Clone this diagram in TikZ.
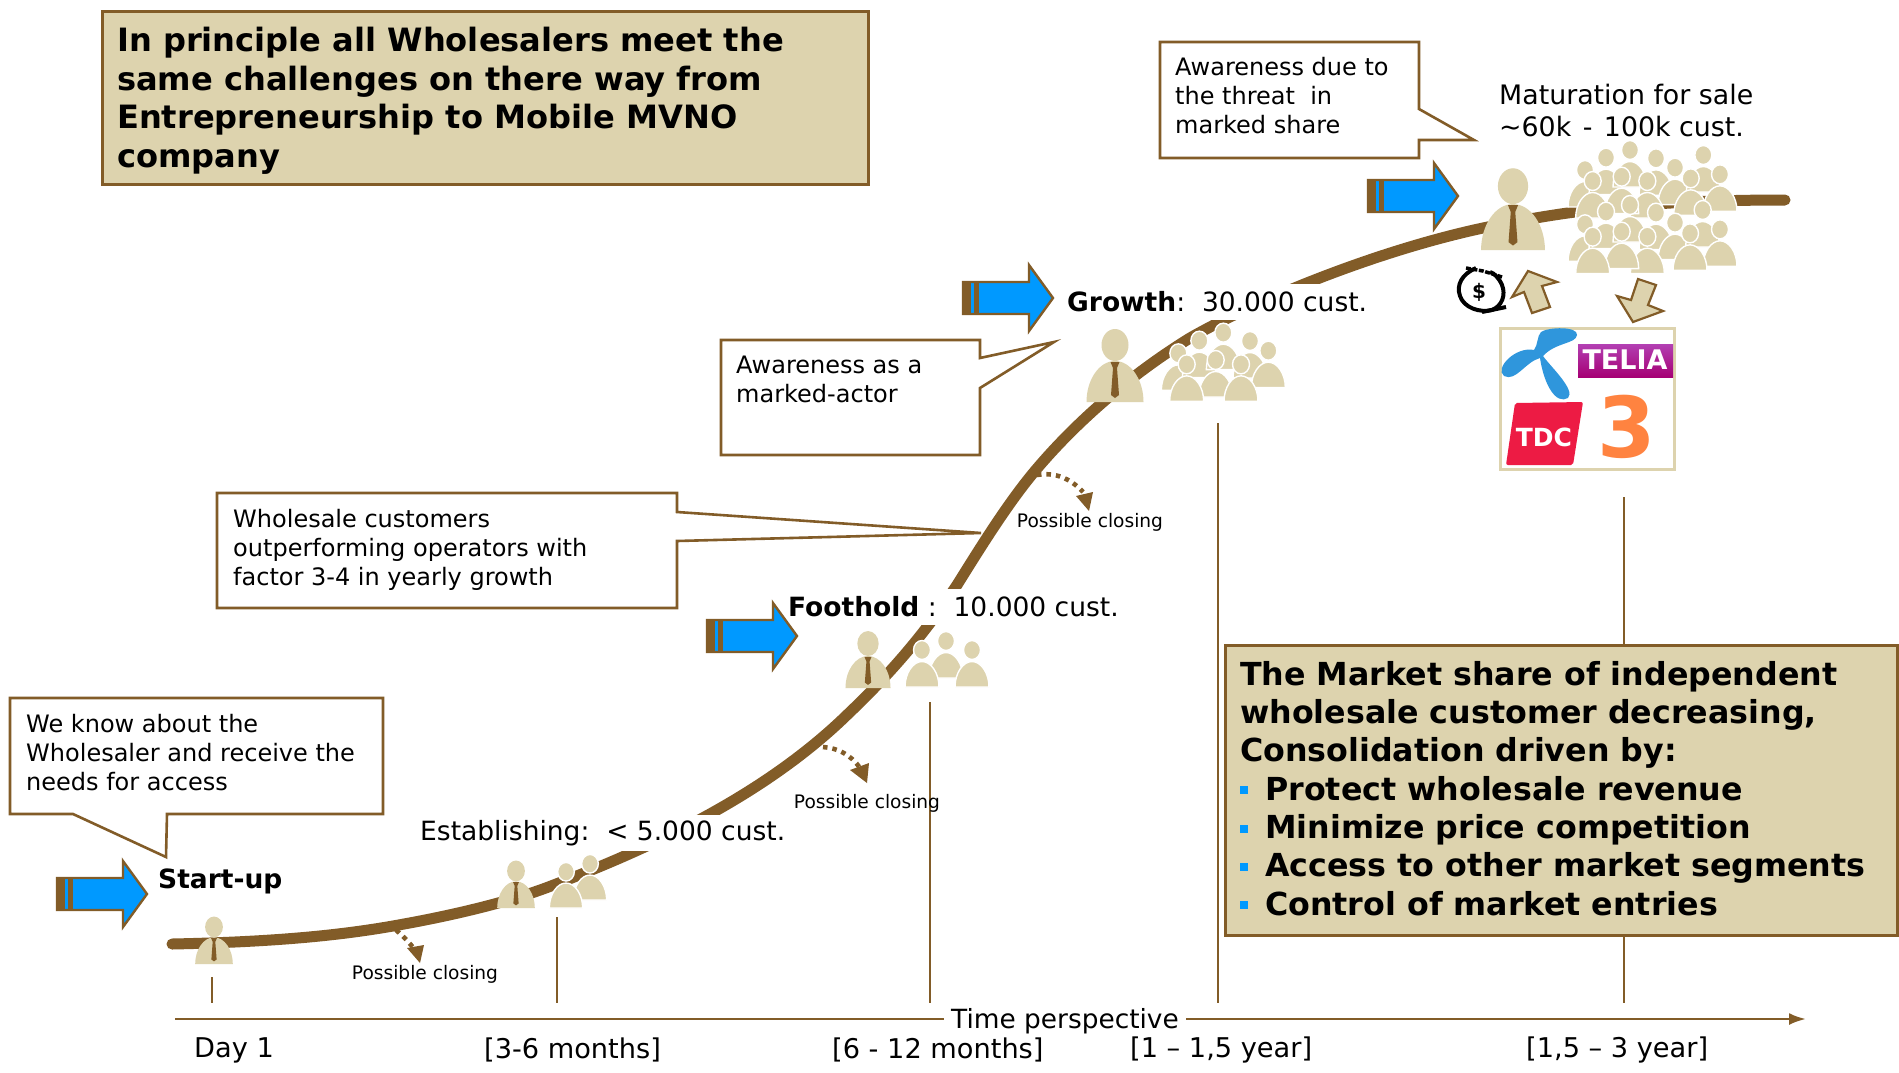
\documentclass[tikz,border=0pt]{standalone}
\usepackage{fontspec}
\setmainfont{DejaVu Sans}
\usetikzlibrary{arrows.meta}
\definecolor{brn}{HTML}{825C28}
\definecolor{tan1}{HTML}{DDD3AE}
\definecolor{blu}{HTML}{0099FF}
\definecolor{telenor}{HTML}{2F96DC}
\definecolor{tdcred}{HTML}{ED1B44}
\newcommand{\fs}[2]{\fontsize{#1pt}{#2pt}\selectfont}
\newcommand{\bul}{\makebox[25pt][l]{\raisebox{6pt}{\textcolor{blu}{\rule{8pt}{8pt}}}}}
\tikzset{
 x=1pt,y=-1pt,
 callout/.style={draw=brn,line width=2.6pt,fill=white,line join=miter},
 notelab/.style={anchor=north west,align=left,inner sep=0pt,font=\fs{24}{29}},
 startlab/.style={anchor=west,inner sep=0pt,font=\fs{26}{32}},
 stagelab/.style={anchor=west,inner sep=2pt,fill=white,font=\fs{26.5}{32},minimum height=36pt},
 timelab/.style={anchor=west,inner sep=0pt,font=\fs{27.2}{32}},
 closelab/.style={inner sep=0pt,font=\fs{18.6}{20}},
 tickline/.style={draw=brn,line width=2.3pt},
 dotline/.style={draw=brn,line width=4.6pt,dash pattern=on 4.5pt off 5pt},
 tanbox/.style={draw=brn,line width=2.8pt,fill=tan1},
 tanarrow/.style={draw=brn,line width=2.2pt,fill=tan1,line join=miter},
 person/.pic={
  \fill[tan1] (0,-57) ellipse (13.5 and 16);
  \fill[tan1] (-28.5,0) .. controls (-28.5,-22) and (-16,-41) .. (0,-41) .. controls (16,-41) and (28.5,-22) .. (28.5,0) -- cycle;
  \fill[brn] (-4.5,-40) -- (4.5,-40) -- (2,-34) -- (4,-7) -- (0,-4) -- (-4,-7) -- (-2,-34) -- cycle;
 },
 fig/.pic={
  \filldraw[fill=tan1,draw=white,line width=1.4pt] (0,-37) ellipse (8.5 and 9.5);
  \filldraw[fill=tan1,draw=white,line width=1.4pt] (-17,0) .. controls (-17,-14) and (-9,-25.5) .. (0,-25.5) .. controls (9,-25.5) and (17,-14) .. (17,0) -- cycle;
 },
 bigarrow/.pic={
  \filldraw[draw=brn,fill=blu,line width=2.4pt,line join=miter] (0,-16) -- (66,-16) -- (66,-33) -- (90,0) -- (66,33) -- (66,16) -- (0,16) -- cycle;
  \fill[brn] (0,-17) rectangle (8,17);
  \fill[brn] (11,-17) rectangle (16,17);
 },
}
\begin{document}
\begin{tikzpicture}
\useasboundingbox (0,0) rectangle (1899,1072);
\fill[white] (0,0) rectangle (1899,1072);

% growth curve
\draw[brn,line width=11pt,line cap=round,line join=round]
 (172,944) .. controls (270,942) and (340,936) .. (404,924)
 .. controls (470,912) and (520,898) .. (551,886)
 .. controls (640,852) and (760,800) .. (848,714)
 .. controls (910,655) and (940,610) .. (957,585)
 .. controls (985,540) and (1012,497) .. (1040,465)
 .. controls (1078,421) and (1130,375) .. (1190,338)
 .. controls (1260,298) and (1380,250) .. (1483,228)
 .. controls (1560,212) and (1640,200) .. (1785,200);

% title
\node[tanbox,minimum width=766pt,minimum height=173pt,anchor=north west] (title) at (101,10) {};
\node[anchor=north west,align=left,inner sep=0pt,font=\bfseries\fs{32.1}{38.5}] (titletext) at (117,27) {In principle all Wholesalers meet the\\same challenges on there way from\\Entrepreneurship to Mobile MVNO\\company};

% callouts
\draw[callout] (10,698) -- (383,698) -- (383,814) -- (167,814) -- (166,857) -- (73,814) -- (10,814) -- cycle;
\node[notelab] (n1) at (26,714) {We know about the\\Wholesaler and receive the\\needs for access};
\draw[callout] (217,493) -- (677,493) -- (677,512) -- (981,533) -- (677,541) -- (677,608) -- (217,608) -- cycle;
\node[notelab] (n2) at (233,509) {Wholesale customers\\outperforming operators with\\factor 3-4 in yearly growth};
\draw[callout] (721,340) -- (980,340) -- (980,358) -- (1054,342) -- (980,388) -- (980,455) -- (721,455) -- cycle;
\node[notelab] (n3) at (736,356) {Awareness as a\\marked-actor};
\draw[callout] (1160,42) -- (1419,42) -- (1419,109) -- (1474,140) -- (1419,140) -- (1419,158) -- (1160,158) -- cycle;
\node[notelab] (n4) at (1175,57) {Awareness due to\\the threat\ \ in\\marked share};

% stage labels
\node[startlab,font=\bfseries\fs{26.5}{32}] (startup) at (158,881) {Start-up};
\node[stagelab] (est) at (418,833) {Establishing:\ \ < 5.000 cust.};
\node[stagelab] (foot) at (786,607) {\textbf{Foothold}\ :\ \ 10.000 cust.};
\node[stagelab] (grow) at (1065,302) {\textbf{Growth}:\ \ 30.000 cust.};
\node[anchor=north west,align=left,inner sep=0pt,font=\fs{26.8}{32}] (mat) at (1499,84) {Maturation for sale\\\textasciitilde60k\hspace{3pt} -\hspace{3pt} 100k cust.};

% big arrows
\pic at (57,894) {bigarrow};
\pic at (707,636) {bigarrow};
\pic at (963,298) {bigarrow};
\pic at (1368,196) {bigarrow};

% people
\pic[xscale=.66,yscale=.65] at (214,964) {person};
\pic[xscale=.66,yscale=.65] at (516,908) {person};
\pic[xscale=.98,yscale=.98] at (590,900) {fig};
\pic[xscale=.98,yscale=.98] at (566,908) {fig};
\pic[xscale=.79,yscale=.78] at (868,688) {person};
\pic at (946,678) {fig};
\pic at (972,687) {fig};
\pic at (922,687) {fig};
\pic at (1115,402) {person};
\foreach \a/\b in {745/310,808/272,880/248,960/273,1015/302,857/330,770/343,933/343}
 \pic at ({930+\a/3},{250+\b/3+37}) {fig};
\pic[scale=1.12] at (1513,250) {person};
\foreach \a/\b in {555/150,618/113,690/90,768/115,825/143,910/105,960/163,872/175,742/183,665/170,578/183,
 555/313,618/275,690/255,768/278,825/308,908/270,960/328,870/340,742/350,665/335,578/350}
 \pic at ({1400+\a/3},{120+\b/3+37}) {fig};

% vertical ticks and axis
\coordinate (t1a) at (212,977); \coordinate (t1b) at (212,1003);
\coordinate (t2a) at (557,917); \coordinate (t2b) at (557,1003);
\coordinate (t3a) at (930,702); \coordinate (t3b) at (930,1003);
\coordinate (t4a) at (1218,423); \coordinate (t4b) at (1218,1003);
\coordinate (t5a) at (1624,497); \coordinate (t5b) at (1624,1003);
\draw[tickline] (t1a) -- (t1b);
\draw[tickline] (t2a) -- (t2b);
\draw[tickline] (t3a) -- (t3b);
\draw[tickline] (t4a) -- (t4b);
\draw[tickline] (t5a) -- (t5b);
\coordinate (axa) at (175,1019); \coordinate (axb) at (1806,1019);
\draw[draw=brn,line width=2.6pt,-{Latex[length=17pt,width=12pt]}] (axa) -- (axb);
\node[fill=white,inner xsep=7pt,inner ysep=1pt,font=\fs{26.4}{32}] (axlab) at (1065,1021) {Time perspective};
\node[timelab] (d1) at (194,1050) {Day 1};
\node[timelab] (d2) at (484,1050) {[3-6 months]};
\node[timelab] (d3) at (832,1050) {[6 - 12 months]};
\node[timelab] (d4) at (1130,1050) {[1 -- 1,5 year]};
\node[timelab] (d5) at (1526,1050) {[1,5 -- 3 year]};

% possible closing
\coordinate (c1a) at (396,930); \coordinate (c1b) at (420,963);
\draw[dotline] (c1a) .. controls (405,938) and (412,945) .. (416,952);
\fill[brn] (c1b) -- (407,948) -- (424,945) -- cycle;
\node[closelab] (pc1) at (425,974) {Possible closing};
\coordinate (c2a) at (823,747); \coordinate (c2b) at (867,783);
\draw[dotline] (c2a) .. controls (838,748) and (851,755) .. (860,768);
\fill[brn] (c2b) -- (850,770) -- (869,763) -- cycle;
\node[closelab] (pc2) at (867,803) {Possible closing};
\coordinate (c3a) at (1037,475); \coordinate (c3b) at (1089,511);
\draw[dotline] (c3a) .. controls (1055,472) and (1070,478) .. (1083,492);
\fill[brn] (c3b) -- (1076,496) -- (1093,492) -- cycle;
\node[closelab] (pc3) at (1090,522) {Possible closing};

% market share box
\node[tanbox,minimum width=672pt,minimum height=290pt,anchor=north west] (box) at (1224,644) {};
\node[anchor=north west,align=left,inner sep=0pt,font=\bfseries\fs{31.7}{38.3}] (boxtext) at (1240,661) {The Market share of independent\\wholesale customer decreasing,\\Consolidation driven by:\\\bul Protect wholesale revenue\\\bul Minimize price competition\\\bul Access to other market segments\\\bul Control of market entries};

% tan arrows
\draw[tanarrow] (1528,271) -- (1557,282) -- (1542,286) -- (1550,307) -- (1532,313) -- (1524,292) -- (1512,297) -- cycle;
\draw[tanarrow] (1633,322) -- (1617,296) -- (1631,300) -- (1638,279) -- (1656,285) -- (1648,305) -- (1663,311) -- cycle;

% money bag
\draw[black,line width=4pt,fill=white] (1476,268) .. controls (1462,274) and (1456,285) .. (1460,296) .. controls (1464,308) and (1480,313) .. (1492,310) .. controls (1502,306) and (1506,295) .. (1502,285) .. controls (1499,278) and (1494,273) .. (1490,272);
\draw[black,line width=3.5pt,dash pattern=on 5pt off 1.5pt] (1466,268) -- (1483,271) -- (1502,277);
\draw[black,line width=4pt] (1482,312) -- (1506,307);
\node[inner sep=0pt,font=\bfseries\fs{20}{20}] (dollar) at (1479,292) {\$};

% operators logo panel
\node[draw=tan1,line width=3pt,fill=white,minimum width=174pt,minimum height=141pt,anchor=north west] (panel) at (1499,327) {};
% Telenor
\fill[telenor] (1541,332) .. controls (1548,327) and (1578,326) .. (1577,335) .. controls (1576,344) and (1556,342) .. (1543,356) .. controls (1550,366) and (1576,390) .. (1568,398) .. controls (1556,405) and (1544,385) .. (1540,358) .. controls (1525,362) and (1516,382) .. (1504,376) .. controls (1494,368) and (1516,346) .. (1534,350) .. controls (1538,345) and (1537,336) .. (1541,332) -- cycle;
% Telia
\shade[top color=magenta!60!black!75,bottom color=magenta!70!red!65!black] (1578,344) rectangle (1673,377);
\node[inner sep=0pt,text=white,font=\bfseries\fs{27}{27}] (telia) at (1625,360) {TELIA};
% TDC
\fill[tdcred,rounded corners=2pt] (1515,403) -- (1583,402) -- (1573,465) -- (1506,465) -- cycle;
\node[inner sep=0pt,text=white,font=\bfseries\fs{25}{25}] (tdc) at (1544,437) {TDC};
% Three
\node[inner sep=0pt,text=orange!70!red!75!white,font=\bfseries\fs{84}{84}] (three) at (1627,427) {3};
\end{tikzpicture}
\end{document}
